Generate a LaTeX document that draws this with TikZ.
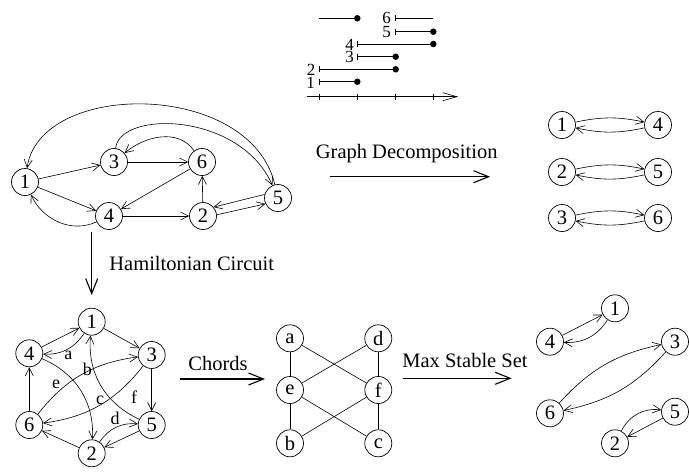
\documentclass[tikz,border=0pt]{standalone}
\usepackage{fontspec}
\setmainfont{Liberation Serif}
\usetikzlibrary{arrows.meta}
\begin{document}
\begin{tikzpicture}[x=1pt,y=1pt,
  vtx/.style={circle,draw,line width=0.7pt,minimum size=27pt,inner sep=0pt,font=\fontsize{20.5}{24}\selectfont},
  ed/.style={line width=0.6pt,-{Straight Barb[length=8pt,width=8pt,line width=0.6pt]}},
  ln/.style={line width=0.6pt},
  bigarrow/.style={line width=1.1pt,-{Straight Barb[length=15pt,width=12pt,line width=1.1pt]}},
  lbl/.style={font=\fontsize{20.5}{24}\selectfont,inner sep=0pt},
  elbl/.style={font=\fontsize{18}{20}\selectfont,inner sep=0pt},
  ilbl/.style={font=\fontsize{17}{18}\selectfont,inner sep=0pt,anchor=east,text height=11pt,text depth=0pt},
  dot/.style={circle,fill,inner sep=0pt,minimum size=6.5pt}
]
\useasboundingbox (0,0) rectangle (689,-472);

% ---------- interval diagram ----------
\draw[line width=0.6pt,-{Straight Barb[length=14pt,width=8pt,line width=0.6pt]}] (306.7,-96.7) -- (458,-96.7);
\foreach \x in {319,357.3,395.7,433.3} \draw[line width=0.6pt] (\x,-93.5) -- (\x,-100);
% interval 1
\draw[line width=0.8pt] (319,-81.7) -- (357.3,-81.7);
\draw[line width=0.8pt] (319,-78.7) -- (319,-84.7);
\node[dot] (d1) at (357.3,-81.7) {};
\node[ilbl] (l1) at (315,-82.5) {1};
% interval 2
\draw[line width=0.8pt] (319,-69.3) -- (395.7,-69.3);
\draw[line width=0.8pt] (319,-66.3) -- (319,-72.3);
\node[dot] (d2) at (395.7,-69.3) {};
\node[ilbl] (l2) at (315.5,-70) {2};
% interval 3
\draw[line width=0.8pt] (357.3,-56.7) -- (395.7,-56.7);
\draw[line width=0.8pt] (357.3,-53.7) -- (357.3,-59.7);
\node[dot] (d3) at (395.7,-56.7) {};
\node[ilbl] (l3) at (354,-57.4) {3};
% interval 4
\draw[line width=0.8pt] (357.3,-44) -- (433.3,-44);
\draw[line width=0.8pt] (357.3,-41) -- (357.3,-47);
\node[dot] (d4) at (433.3,-44) {};
\node[ilbl] (l4) at (354,-44.7) {4};
% interval 5
\draw[line width=0.8pt] (395.7,-31.7) -- (433.3,-31.7);
\draw[line width=0.8pt] (395.7,-28.7) -- (395.7,-34.7);
\node[dot] (d5) at (433.3,-31.7) {};
\node[ilbl] (l5) at (391,-32.4) {5};
% interval 6
\draw[line width=0.8pt] (395.7,-18.3) -- (433.3,-18.3);
\draw[line width=0.8pt] (395.7,-15.3) -- (395.7,-21.3);
\node[ilbl] (l6) at (391,-18.3) {6};
% unlabeled interval
\draw[line width=0.8pt] (319,-18.3) -- (357.3,-18.3);
\node[dot] (d7) at (357.3,-18.3) {};

% ---------- top graph ----------
\node[vtx] (t1) at (25,-182) {1};
\node[vtx] (t3) at (114,-162) {3};
\node[vtx] (t6) at (202,-162) {6};
\node[vtx] (t4) at (109,-216) {4};
\node[vtx] (t2) at (203,-216) {2};
\node[vtx] (t5) at (278,-198) {5};
\draw[ed] (t1) -- (t3);
\draw[ed] (t3) -- (t6);
\draw[ed] (t6) to[out=125,in=40] (t3);
\draw[ed] (t6) -- (t4);
\draw[ed] (t1) -- (t4);
\draw[ed] (t4) to[out=205,in=-65] (t1);
\draw[ed] (t4) -- (t2);
\draw[ed] (t2) -- (t6);
\draw[ed] (t5.165) -- (t2.40);
\draw[ed] (t2.5) -- (t5.205);
\draw[ed] (t5) .. controls (250,-80) and (40,-80) .. (t1);
\draw[ed] (t3) .. controls (120,-110) and (240,-112) .. (t5);

% ---------- decomposition ----------
\node[vtx] (r1) at (562,-125) {1};
\node[vtx] (r4) at (658,-125) {4};
\node[vtx] (r2) at (562,-172) {2};
\node[vtx] (r5) at (658,-172) {5};
\node[vtx] (r3) at (562,-218) {3};
\node[vtx] (r6) at (658,-218) {6};
\draw[ed] (r1) to[bend left=12] (r4);
\draw[ed] (r4) to[bend left=12] (r1);
\draw[ed] (r2) to[bend left=12] (r5);
\draw[ed] (r5) to[bend left=12] (r2);
\draw[ed] (r3) to[bend left=12] (r6);
\draw[ed] (r6) to[bend left=12] (r3);

% ---------- big arrows ----------
\coordinate (gA) at (330,-176.7); \coordinate (gB) at (490,-176.7);
\draw[bigarrow] (gA) -- (gB);
\node[lbl] (gT) at (406.7,-154) {Graph Decomposition};
\coordinate (hA) at (91.7,-232); \coordinate (hB) at (91.7,-295);
\draw[bigarrow] (hA) -- (hB);
\node[lbl] (hT) at (191.7,-263.3) {Hamiltonian Circuit};
\coordinate (cA) at (180,-379); \coordinate (cB) at (265,-379);
\draw[bigarrow] (cA) -- (cB);
\node[lbl] (cT) at (218,-363) {Chords};
\coordinate (mA) at (403,-378.3); \coordinate (mB) at (511.7,-378.3);
\draw[bigarrow] (mA) -- (mB);
\node[lbl] (mT) at (465,-360) {Max Stable Set};

% ---------- hamiltonian graph ----------
\node[vtx] (h1) at (91.7,-321.7) {1};
\node[vtx] (h4) at (29.3,-353.3) {4};
\node[vtx] (h3) at (151.7,-355) {3};
\node[vtx] (h6) at (29.3,-425) {6};
\node[vtx] (h5) at (151.7,-425) {5};
\node[vtx] (h2) at (91.7,-453.3) {2};
\draw[ed] (h4) -- (h1);
\draw[ed] (h1) to[bend left=30] (h4);
\draw[ed] (h1) -- (h3);
\draw[ed] (h3) -- (h5);
\draw[ed] (h5) -- (h2);
\draw[ed] (h2) -- (h6);
\draw[ed] (h6) -- (h4);
\draw[ed] (h6) to[bend left=22] (h3);
\draw[ed] (h3) to[bend left=22] (h6);
\draw[ed] (h2) to[bend left=30] (h5);
\draw[ed] (h4) to[bend left=35] (h2);
\draw[ed] (h5) to[bend left=35] (h1);
\node[elbl] (la) at (68.3,-355) {a};
\node[elbl] (lb) at (87.3,-369.3) {b};
\node[elbl] (lc) at (100,-400) {c};
\node[elbl] (ld) at (115,-418.3) {d};
\node[elbl] (le) at (56,-384.3) {e};
\node[elbl] (lf) at (134,-396.7) {f};

% ---------- chords graph ----------
\node[vtx] (ca) at (290,-338.3) {a};
\node[vtx] (cd) at (378.3,-338.3) {d};
\node[vtx] (ce) at (290,-390) {e};
\node[vtx] (cf) at (378.3,-390) {f};
\node[vtx] (cb) at (290,-443.3) {b};
\node[vtx] (cc) at (378.3,-443.3) {c};
\draw[ln] (ca) -- (ce);
\draw[ln] (ce) -- (cb);
\draw[ln] (cd) -- (cf);
\draw[ln] (cf) -- (cc);
\draw[ln] (ca) -- (cf);
\draw[ln] (ce) -- (cd);
\draw[ln] (ce) -- (cc);
\draw[ln] (cb) -- (cf);

% ---------- max stable set ----------
\node[vtx] (m1) at (615,-308.3) {1};
\node[vtx] (m4) at (550,-341.7) {4};
\node[vtx] (m3) at (675,-341.7) {3};
\node[vtx] (m6) at (550,-413.3) {6};
\node[vtx] (m5) at (675,-411.7) {5};
\node[vtx] (m2) at (615,-443.3) {2};
\draw[ed] (m4) -- (m1);
\draw[ed] (m1) to[bend left=30] (m4);
\draw[ed] (m6) to[bend left=18] (m3);
\draw[ed] (m3) to[bend left=18] (m6);
\draw[ed] (m2) to[bend left=35] (m5);
\draw[ed] (m5) -- (m2);
\end{tikzpicture}
\end{document}
